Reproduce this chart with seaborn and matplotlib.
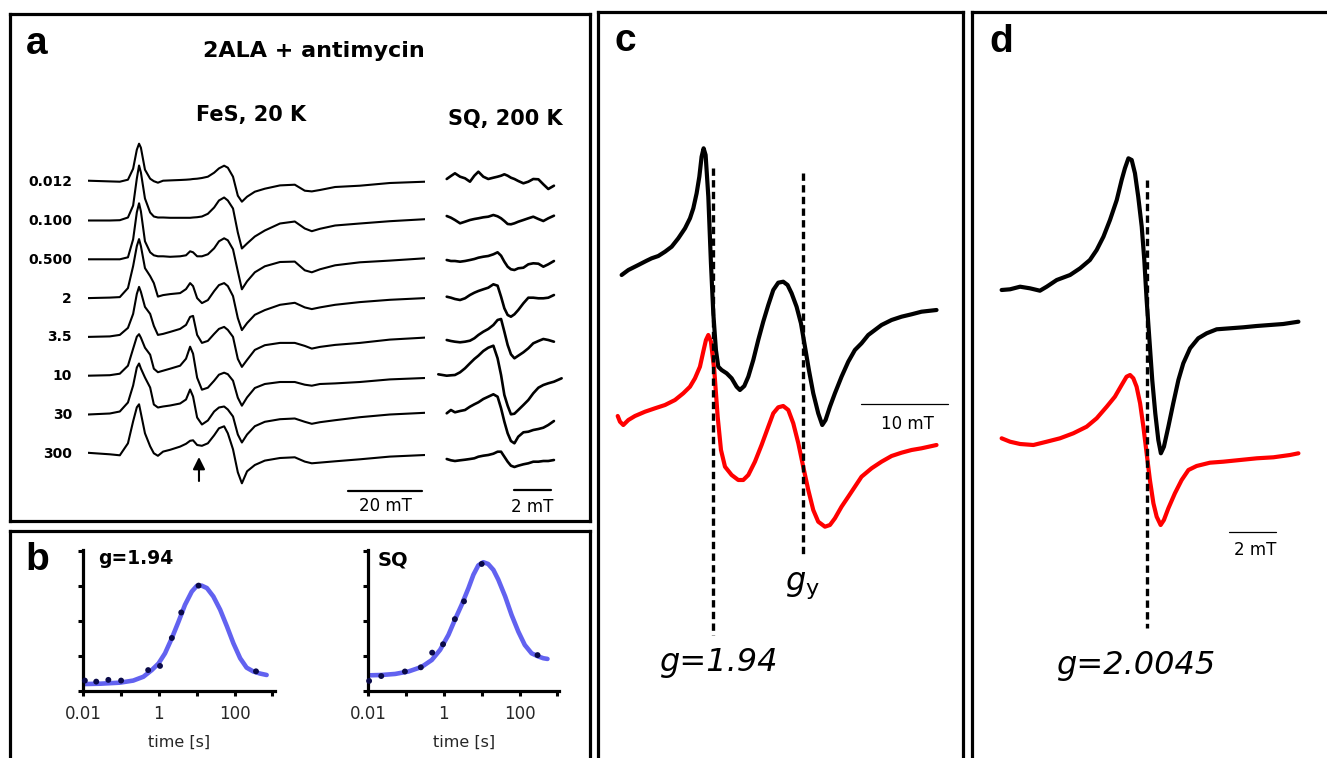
import numpy as np
import matplotlib
matplotlib.use("Agg")
import matplotlib.pyplot as plt
from matplotlib.ticker import NullLocator, FixedLocator
import seaborn as sns

sns.set_style("ticks")
plt.rcParams["font.family"] = ["DejaVu Sans"]
plt.rcParams["text.color"] = "black"
plt.rcParams["axes.edgecolor"] = "black"
plt.rcParams["xtick.color"] = "black"
plt.rcParams["ytick.color"] = "black"
plt.rcParams["mathtext.fontset"] = "dejavusans"
plt.rcParams["lines.solid_joinstyle"] = "round"
plt.rcParams["lines.solid_capstyle"] = "round"

W, H = 1327, 758

# ---------------- panel a: FeS spectra at 20 K (field in mT, signal in a.u.)
fes_labels = ["0.012", "0.100", "0.500", "2", "3.5", "10", "30", "300"]
fes_field = [0.0, 5.9, 8.6, 10.8, 12.2, 13.2, 13.8, 14.3, 15.4, 16.8, 17.8, 18.9, 20.3, 22.2,
             24.9, 26.5, 27.6, 28.4, 29.5, 30.8, 32.4, 34.1, 35.4, 36.8, 37.8, 39.2, 40.5, 41.6,
             43.0, 45.1, 47.8, 51.9, 55.9, 58.6, 60.5, 62.7, 66.8, 73.5, 81.6, 91.1]
fes_0012 = [1, 0.3, 0, 2, 13, 32, 38, 34, 12, 3, 0.5, -1, 1, 1.3, 1.7, 2, 2.3, 2.7, 3, 3.7,
            5, 9, 13.3, 16, 14, 5, -14, -20, -15, -10, -7, -3.7, -3, -9, -9.7, -8.3, -5.3, -4, -1.3, 0]
fes_0100 = [0, 0, 0.3, 3, 15, 42, 55, 48, 22, 8, 4, 3, 3, 2.7, 2.7, 2.7, 2.7, 3, 3.3, 4,
            6.7, 13, 20, 23, 20, 12, -12, -28, -23, -16, -10, -3, -1, -8, -10.7, -8.3, -5, -3, -0.7, 1.3]
fes_0500 = [0, 0, 0, 2, 20, 47, 56, 48, 18, 7, 4, 3, 3, 2.5, 3, 4, 8, 7, 3, 3,
            5, 11, 18, 21, 19, 10, -12, -30, -22, -13, -7, -2.7, -2.3, -11, -13, -10, -6, -3, -1.3, 1]
fes_2 = [0, 0.5, 1, 10, 32, 52, 59, 52, 30, 22, 15, 1.5, 3, 4, 5, 9, 15, 12, 0, -5,
         -2, 7, 13, 15, 12, 2, -20, -32, -25, -16.7, -12, -6.7, -4.7, -9.3, -11, -9.3, -6.7, -4, -1.7, 0]
fes_35 = [0, 0.5, 2, 9, 23, 43, 50, 45, 30, 23, 11, 2, 3, 5, 8, 12, 20, 21, 2, -6,
          -4, 3, 8, 10, 7, 0, -22, -30, -23, -13, -8.3, -6, -6, -9, -11.7, -10, -8, -6, -2.7, -0.7]
fes_10 = [0, 0.5, 2, 10, 27, 39, 41.5, 38, 28, 21, 7, 3.5, 5, 7, 10, 17, 29, 22, -2, -14,
          -12, -5, 1, 3, 1.5, -5, -22, -30, -21.7, -12.3, -8.3, -6.3, -6.3, -9, -10, -8.3, -7.7, -6.3, -3.7, -2.3]
fes_30 = [0, 1, 3, 12, 29, 47, 51, 46, 37, 27, 10, 7, 8, 9, 11, 15, 25, 18, -3, -10,
          -6, 3, 7, 8, 5, -2, -20, -28, -20, -11.7, -7.3, -4.7, -4, -7.3, -9.3, -7.7, -5.7, -2.7, 0, 1.7]
fes_300 = [0.5, -1, -2, 10, 32, 46, 49, 40, 20, 7, 0, -2.5, 1.7, 3.5, 6.7, 9.5, 12.5, 13, 8.3, 7.5,
           10, 18, 25, 27, 20, 4, -19, -30, -18, -11.7, -7.3, -4.7, -4, -8.3, -10, -9.3, -8, -6, -3.3, -1.7]
fes_traces = [fes_0012, fes_0100, fes_0500, fes_2, fes_35, fes_10, fes_30, fes_300]

# SQ spectra at 200 K
nan = np.nan
sq_field = [0.18, 0.64, 0.87, 1.09, 1.37, 1.64, 1.91, 2.15, 2.37, 2.64, 2.91, 3.19, 3.42, 3.61,
            3.79, 3.97, 4.15, 4.34, 4.55, 4.83, 5.10, 5.37, 5.65, 5.92, 6.19, 6.50, 6.92]
sq_0012 = [nan, 2.7, 5.7, 8.4, 5.0, 3.4, 0.0, 6.0, 10.0, 5.0, 2.7, 4.0, 5.0, 6.0, 7.4, 6.0,
           4.0, 2.7, 0.7, -1.6, 0.0, 2.7, 2.4, -2.6, -7.3, -4.0, nan]
sq_0100 = [nan, 4.5, 2.8, 0.5, -2.8, -1.2, 0.5, 1.5, 2.2, 3.2, 3.8, 5.5, 4.2, 2.2, -0.5, -3.5,
           -3.8, -2.8, -1.2, 0.5, 2.2, 3.8, 1.5, -0.5, 2.2, 4.8, nan]
sq_0500 = [nan, -0.7, -1.7, -1.7, -2.4, -1.7, -0.7, 0.3, 1.6, 2.6, 3.3, 5.0, 7.0, 3.6, -2.4, -7.4,
           -10.0, -10.7, -9.0, -8.4, -5.0, -4.0, -4.4, -7.4, -5.0, -1.7, nan]
sq_2 = [nan, 1.4, 0.4, -0.9, -1.9, -0.2, 3.1, 5.4, 7.1, 8.8, 10.4, 13.8, 12.4, 1.4, -10.2, -16.9,
        -18.6, -16.2, -11.9, -5.2, 0.4, 0.4, -0.2, -0.2, 0.4, 3.1, nan]
sq_35 = [nan, -3.1, -4.1, -4.8, -5.4, -4.8, -3.8, -1.4, 1.9, 5.2, 7.9, 11.9, 16.9, 17.9, 5.2, -8.1,
         -17.4, -21.4, -18.8, -15.4, -11.4, -6.4, -4.1, -2.1, -3.1, -4.8, nan]
sq_10 = [1.4, 0.0, 0.4, 0.7, 3.4, 7.4, 12.4, 16.7, 20.0, 24.7, 28.0, 30.0, 17.4, 0.7, -19.3, -30.0,
         -38.6, -38.0, -34.3, -29.3, -24.3, -17.6, -12.0, -9.3, -7.6, -6.0, -2.6]
sq_30 = [nan, 1.2, 4.5, 2.2, 3.5, 4.5, 7.8, 10.2, 12.2, 15.5, 17.8, 20.2, 17.8, 6.2, -7.2, -18.8,
         -26.5, -28.8, -22.2, -17.8, -17.2, -15.5, -14.5, -13.2, -10.5, -6.5, nan]
sq_300 = [nan, -5.7, -7.0, -7.7, -7.0, -6.4, -5.7, -5.0, -3.4, -2.4, -1.7, -0.4, 1.6, 1.6, -3.4, -8.4,
          -12.4, -13.7, -12.4, -11.0, -10.0, -8.4, -8.4, -7.7, -7.7, -6.7, nan]
sq_traces = [sq_0012, sq_0100, sq_0500, sq_2, sq_35, sq_10, sq_30, sq_300]

# ---------------- panel b: kinetics (time in s, amplitude in a.u.)
b_fes_time = [0.011, 0.022, 0.046, 0.10, 0.52, 1.07, 2.2, 3.9, 11.2, 370]
b_fes_value = [0.29, 0.26, 0.31, 0.29, 0.59, 0.71, 1.51, 2.24, 3.01, 0.555]
b_fes_fit_time = [0.01, 0.0275, 0.093, 0.209, 0.389, 0.646, 0.977, 1.45, 2.19, 3.31, 4.9, 7.41,
                  10, 13.5, 18.6, 27.5, 41.7, 63.1, 93.3, 141, 209, 316, 479, 708]
b_fes_fit_value = [0.19, 0.20, 0.23, 0.29, 0.40, 0.59, 0.78, 1.07, 1.50, 1.98, 2.46, 2.84,
                   3.0, 3.01, 2.94, 2.70, 2.32, 1.84, 1.36, 0.93, 0.66, 0.55, 0.49, 0.45]
b_sq_time = [0.0105, 0.022, 0.093, 0.245, 0.49, 0.95, 1.95, 3.4, 10, 300]
b_sq_value = [0.28, 0.42, 0.55, 0.67, 1.09, 1.33, 2.05, 2.56, 3.63, 1.02]
b_sq_fit_time = [0.01, 0.0224, 0.0513, 0.115, 0.257, 0.479, 0.794, 1.32, 1.95, 2.95, 4.47, 6.03,
                 8.13, 11.0, 14.8, 20.4, 27.5, 41.7, 61.7, 93.3, 138, 209, 316, 427, 550]
b_sq_fit_value = [0.44, 0.45, 0.48, 0.55, 0.68, 0.88, 1.17, 1.60, 2.03, 2.46, 2.94, 3.32, 3.59,
                  3.68, 3.63, 3.46, 3.18, 2.70, 2.17, 1.69, 1.31, 1.07, 0.98, 0.93, 0.91]

# ---------------- panel c: FeS g=1.94 region (black / red)
c_black_field = [0.76, 1.53, 2.67, 3.63, 4.20, 4.96, 5.73, 6.49, 7.25, 8.02, 8.59, 8.97, 9.35, 9.66,
                 9.92, 10.15, 10.38, 10.69, 10.99, 11.26, 11.56, 11.83, 12.21, 12.79, 13.36, 13.93,
                 14.31, 14.81, 15.27, 15.84, 16.41, 16.98, 17.56, 18.13, 18.70, 19.27, 19.77, 20.23,
                 20.80, 21.30, 21.76, 22.21, 22.71, 23.28, 23.74, 24.12, 24.62, 25.19, 25.95, 26.72,
                 27.48, 28.24, 29.01, 29.77, 30.53, 31.68, 32.82, 33.97, 35.11, 36.83]
c_black_amp = [125, 130, 135, 139.3, 141.7, 144, 148.3, 153.3, 161.7, 171.7, 181.7, 191.7, 206.7,
               223.3, 243.3, 251.7, 245, 203.3, 136.7, 86.7, 50, 33.3, 30, 26.7, 21.7, 13.3, 10, 14,
               23.3, 40, 60, 78.3, 95, 110, 117.3, 118.3, 115, 106.7, 93.3, 76.7, 53.3, 30, 6.7,
               -13.3, -25, -20, -6.7, 6.7, 23.3, 38.3, 50, 56.7, 65, 70, 75, 80, 83.3, 85.7, 88.3, 90]
c_red_field = [0.31, 0.57, 0.95, 1.53, 2.29, 3.44, 4.58, 5.73, 6.87, 7.82, 8.59, 9.16, 9.73, 10.11,
               10.42, 10.69, 10.99, 11.37, 11.76, 12.14, 12.60, 13.36, 14.12, 14.69, 15.27, 16.03,
               16.79, 17.56, 18.13, 18.70, 19.27, 19.85, 20.42, 21.0, 21.56, 22.14, 22.71, 23.28,
               24.05, 24.62, 25.19, 25.95, 26.72, 27.48, 28.24, 29.39, 30.53, 31.68, 32.82, 33.97,
               35.11, 36.83]
c_red_amp = [-16, -21.7, -25, -20, -16, -11.7, -8.3, -5, 0, 6.7, 13.3, 21.7, 33.3, 48.3, 60, 65,
             58.3, 30, -16.7, -50, -66.7, -75, -80, -80, -75, -61.7, -45, -26.7, -13.3, -7.3, -6,
             -10, -23.3, -43.3, -66.7, -90, -110, -121.7, -126.7, -125, -118.3, -106.7, -96.7,
             -86.7, -76.7, -68.3, -61.7, -56, -52.7, -50, -48.3, -45]
c_mark_field = [11.26, 21.5]
c_mark_top = [231.7, 227.3]
c_mark_bottom = [-235, -155.6]

# ---------------- panel d: SQ g=2.0045 (black / red)
d_black_field = [0.07, 0.43, 0.86, 1.28, 1.71, 2.0, 2.43, 3.0, 3.43, 3.85, 4.14, 4.43, 4.71, 5.0,
                 5.21, 5.35, 5.50, 5.64, 5.78, 5.92, 6.07, 6.18, 6.28, 6.40, 6.52, 6.65, 6.78, 6.89,
                 7.02, 7.21, 7.42, 7.64, 7.85, 8.14, 8.49, 8.85, 9.28, 9.85, 10.42, 10.99, 11.56,
                 12.13, 12.78]
d_black_amp = [110, 110.7, 113.3, 111.7, 109.3, 113.3, 120, 125, 131.7, 140, 150, 163.3, 180, 200,
               220, 231.7, 241.7, 240, 226.7, 203.3, 173.3, 140, 100, 60, 20, -13.3, -40, -53.3,
               -46.7, -26.7, -3.3, 20, 36.7, 51.7, 61.7, 66.7, 70.7, 71.7, 72.7, 74, 75, 76, 78.3]
d_red_field = [0.07, 0.43, 0.86, 1.43, 2.0, 2.57, 3.14, 3.71, 4.14, 4.57, 4.92, 5.21, 5.42, 5.57,
               5.71, 5.85, 6.0, 6.14, 6.28, 6.42, 6.57, 6.71, 6.88, 7.02, 7.21, 7.49, 7.78, 8.07,
               8.42, 8.99, 9.56, 10.28, 11.0, 11.71, 12.42, 12.78]
d_red_amp = [-38.3, -41.7, -44, -45, -41.7, -38.3, -33.3, -26.7, -18.3, -6.7, 3.3, 15, 23.3, 25,
             21.7, 13.3, -3.3, -26.7, -53.3, -80, -103.3, -116.7, -125, -120, -108.3, -93.3, -80,
             -70, -66, -62.7, -61.7, -60, -58.3, -57.3, -55, -53.3]
d_mark_field = 6.31
d_mark_top = 220
d_mark_bottom = -228

STEP = 38.8  # vertical spacing of stacked spectra
FRAME_LW = 2.3


def box(x0, y0, x1, y1):
    return [x0 / W, 1 - y1 / H, (x1 - x0) / W, (y1 - y0) / H]


def fpos(x, y):
    return x / W, 1 - y / H


def frame(rect):
    ax = fig.add_axes(rect)
    ax.set_xticks([])
    ax.set_yticks([])
    for s in ax.spines.values():
        s.set_visible(True)
        s.set_linewidth(FRAME_LW)
        s.set_color("black")
    ax.set_facecolor("none")
    return ax


def trace(ax, x, y, color="black", lw=1.4):
    sns.lineplot(x=x, y=y, ax=ax, color=color, lw=lw, sort=False, estimator=None)


fig = plt.figure(figsize=(W / 100, H / 100), dpi=100)

# ---- panel a
ax_a = frame(box(9.5, 13.5, 590, 521))
letter = dict(fontfamily="Liberation Sans", fontweight="bold", fontsize=28, va="baseline")
bold = dict(fontweight="bold")
fig.text(*fpos(26, 54), "a", **letter)
fig.text(*fpos(314, 57), "2ALA + antimycin", ha="center", va="baseline", fontsize=16, **bold)
fig.text(*fpos(251.5, 121.5), "FeS, 20 K", ha="center", va="baseline", fontsize=15, **bold)
fig.text(*fpos(505, 125), "SQ, 200 K", ha="center", va="baseline", fontsize=15, **bold)

ax_fes = fig.add_axes(box(88, 100, 425, 520))
ax_fes.set_xlim(0, 91.1)
ax_fes.set_ylim(181.7 - 520, 181.7 - 100)
ax_fes.axis("off")
for i, (lab, amp) in enumerate(zip(fes_labels, fes_traces)):
    off = -i * STEP
    trace(ax_fes, fes_field, np.asarray(amp) + off, lw=1.5)
    ax_fes.text(-4.3, off - 0.5, lab, ha="right", va="center", fontsize=10, **bold)

arrow_field = 30.0
ax_fes.annotate("", xy=(arrow_field, 181.7 - 457), xytext=(arrow_field, 181.7 - 481),
                arrowprops=dict(arrowstyle="-|>,head_length=0.6,head_width=0.3", color="black",
                                lw=1.5, mutation_scale=12, shrinkA=0, shrinkB=0))
fes_bar_end = 90.3
ax_fes.plot([fes_bar_end - 20, fes_bar_end], [181.7 - 490.7] * 2, color="black", lw=1.6)
ax_fes.text(fes_bar_end - 10, 181.7 - 506, "20 mT", ha="center", va="center", fontsize=12)

ax_sq = fig.add_axes(box(435, 100, 570, 520))
ax_sq.set_xlim(0, 135 / 18.3)
ax_sq.set_ylim(181.7 - 520, 181.7 - 100)
ax_sq.axis("off")
for i, amp in enumerate(sq_traces):
    trace(ax_sq, sq_field, np.asarray(amp) - i * STEP, lw=1.9)
sq_bar_end = 6.32
ax_sq.plot([sq_bar_end - 2, sq_bar_end], [181.7 - 490] * 2, color="black", lw=1.6)
ax_sq.text(sq_bar_end - 1, 181.7 - 507, "2 mT", ha="center", va="center", fontsize=12)

# ---- panel b
ax_b = frame(box(9.5, 531, 590, 800))
fig.text(*fpos(25, 570), "b", **letter)


def kinetics(rect, t, v, fit_t, fit_v, xmax):
    ax = fig.add_axes(rect)
    ax.set_facecolor("none")
    sns.lineplot(x=fit_t, y=fit_v, ax=ax, color="#6262f0", lw=3.3, sort=False, estimator=None)
    sns.scatterplot(x=t, y=v, ax=ax, color="#0a0a48", s=18, edgecolor="none", zorder=3,
                    clip_on=False)
    ax.set_xscale("log")
    ax.set_xlim(0.01, xmax)
    ax.set_ylim(0, 4.03)
    ax.xaxis.set_major_locator(FixedLocator([0.01, 0.1, 1, 10, 100, 1000]))
    ax.xaxis.set_minor_locator(NullLocator())
    ax.set_xticklabels(["0.01", "", "1", "", "100", ""])
    ax.set_yticks([0, 1, 2, 3, 4])
    ax.set_yticklabels([])
    ax.tick_params(axis="both", direction="out", length=3.6, width=2.2, labelsize=12,
                   labelcolor="#262626", pad=6.5)
    for s in ("top", "right"):
        ax.spines[s].set_visible(False)
    for s in ("left", "bottom"):
        ax.spines[s].set_linewidth(2.3)
    ax.set_xlabel("time [s]", fontsize=11.5, color="#262626", labelpad=8.5)
    ax.set_ylabel("")
    return ax


kinetics(box(83.3, 550, 275, 690.7), b_fes_time, b_fes_value, b_fes_fit_time, b_fes_fit_value, 1178)
kinetics(box(368.3, 550, 559, 690.7), b_sq_time, b_sq_value, b_sq_fit_time, b_sq_fit_value, 1109)
fig.text(*fpos(98, 563.5), "g=1.94", ha="left", va="baseline", fontsize=13.5, **bold)
fig.text(*fpos(377.7, 565.5), "SQ", ha="left", va="baseline", fontsize=14, **bold)

# ---- panel c
ax_c = frame(box(598.3, 12, 963.3, 800))
ax_c.set_xlim((598.3 - 615) / 8.73, (963.3 - 615) / 8.73)
ax_c.set_ylim(400 - 800, 400 - 12)
trace(ax_c, c_black_field, c_black_amp, lw=3.0)
trace(ax_c, c_red_field, c_red_amp, color="#ff0000", lw=3.0)
for fx, top, bot in zip(c_mark_field, c_mark_top, c_mark_bottom):
    ax_c.plot([fx, fx], [top, bot], color="black", lw=2.4, ls=(0, (2.2, 1.3)))
c_bar_end = 38.18
ax_c.plot([c_bar_end - 10, c_bar_end], [-4, -4], color="black", lw=0.9)
ax_c.text(c_bar_end - 4.7, -24, "10 mT", ha="center", va="center", fontsize=12)
ax_c.text(c_mark_field[1], -190, r"$g_{\mathrm{y}}$", ha="center", va="baseline", fontsize=23)
ax_c.text(11.9, -271.5, "g=1.94", ha="center", va="baseline", fontsize=23, fontstyle="italic")
fig.text(*fpos(615, 51), "c", **letter)

# ---- panel d
ax_d = frame(box(972.3, 12, 1345, 800))
ax_d.set_xlim((972.3 - 1000) / 23.35, (1345 - 1000) / 23.35)
ax_d.set_ylim(400 - 800, 400 - 12)
trace(ax_d, d_black_field, d_black_amp, lw=3.0)
trace(ax_d, d_red_field, d_red_amp, color="#ff0000", lw=3.0)
ax_d.plot([d_mark_field] * 2, [d_mark_top, d_mark_bottom], color="black", lw=2.4,
          ls=(0, (2.2, 1.3)))
d_bar_end = 11.82
ax_d.plot([d_bar_end - 2, d_bar_end], [-131.7, -131.7], color="black", lw=0.9)
ax_d.text(d_bar_end - 0.9, -150, "2 mT", ha="center", va="center", fontsize=12)
ax_d.text(5.87, -274, "g=2.0045", ha="center", va="baseline", fontsize=23, fontstyle="italic")
fig.text(*fpos(989, 52), "d", **letter)

fig.savefig("out.png", dpi=100)
